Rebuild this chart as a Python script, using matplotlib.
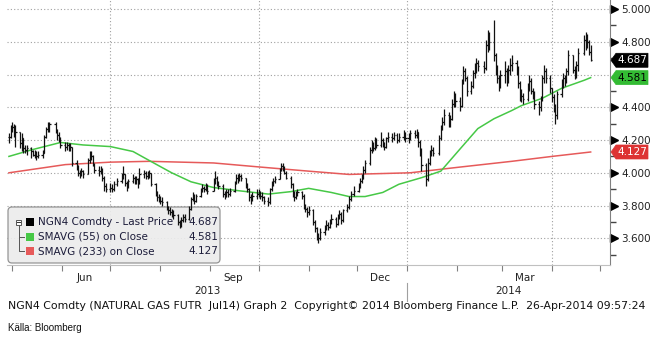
import matplotlib
matplotlib.use("Agg")
import matplotlib.pyplot as plt
import matplotlib.dates as mdates
import matplotlib.transforms as mtransforms
from matplotlib.collections import LineCollection
from matplotlib.patches import FancyBboxPatch, Polygon, Rectangle
import numpy as np
import pandas as pd

# NYMEX closed days inside the window
holidays = ["2013-05-27", "2013-07-04", "2013-09-02", "2013-11-28", "2013-12-25",
            "2014-01-01", "2014-01-20", "2014-02-17", "2014-04-18"]

# NGN4 daily bars, 29-Apr-2013 .. 25-Apr-2014 (one row per month)
close = [
    4.22, 4.26,
    4.28, 4.27, 4.25, 4.18, 4.21, 4.15, 4.14, 4.15, 4.13, 4.11, 4.12, 4.10, 4.11, 4.12, 4.22, 4.27, 4.29, 4.30, 4.26, 4.23, 4.21, 4.17,
    4.16, 4.17, 4.15, 4.16, 4.06, 4.04, 4.00, 3.99, 4.01, 3.99, 4.08, 4.11, 4.10, 4.05, 4.02, 4.01, 4.02, 3.97, 3.92, 3.90,
    3.91, 3.90, 3.93, 3.95, 3.98, 3.99, 3.94, 3.92, 3.95, 3.97, 3.95, 3.96, 3.94, 3.99, 4.00, 3.98, 3.99, 4.00, 3.93, 3.88, 3.85, 3.84,
    3.83, 3.82, 3.79, 3.77, 3.76, 3.75, 3.74, 3.70, 3.68, 3.71, 3.73, 3.72, 3.78, 3.84, 3.86, 3.83, 3.86, 3.89, 3.91, 3.90, 3.92, 3.89,
    3.95, 3.97, 3.94, 3.92, 3.87, 3.86, 3.88, 3.87, 3.89, 3.94, 3.97, 3.96, 3.98, 3.97, 3.93, 3.90, 3.85, 3.84, 3.86, 3.87,
    3.88, 3.86, 3.85, 3.83, 3.82, 3.90, 3.93, 3.95, 3.96, 4.02, 4.04, 4.03, 4.00, 3.97, 3.93, 3.87, 3.85, 3.87, 3.88, 3.86, 3.80, 3.78, 3.76,
    3.77, 3.70, 3.66, 3.61, 3.60, 3.64, 3.66, 3.68, 3.67, 3.70, 3.72, 3.69, 3.73, 3.75, 3.71, 3.77, 3.79, 3.84, 3.87, 3.89,
    3.92, 3.95, 3.97, 4.02, 4.06, 4.14, 4.17, 4.15, 4.19, 4.17, 4.20, 4.18, 4.16, 4.21, 4.22, 4.21, 4.23, 4.20, 4.22, 4.24, 4.21,
    4.21, 4.24, 4.23, 4.25, 4.19, 4.14, 4.05, 3.96, 4.06, 4.12, 4.14, 4.12, 4.21, 4.27, 4.31, 4.35, 4.30, 4.33, 4.42, 4.46, 4.44,
    4.41, 4.55, 4.62, 4.58, 4.50, 4.53, 4.61, 4.63, 4.67, 4.65, 4.64, 4.78, 4.82, 4.80, 4.72, 4.62, 4.58, 4.53, 4.60,
    4.62, 4.57, 4.63, 4.66, 4.67, 4.64, 4.55, 4.48, 4.47, 4.45, 4.52, 4.56, 4.50, 4.48, 4.42, 4.40, 4.45, 4.58, 4.62, 4.58, 4.52,
    4.46, 4.40, 4.35, 4.48, 4.54, 4.58, 4.56, 4.62, 4.72, 4.63, 4.60, 4.66, 4.73, 4.81, 4.78, 4.80, 4.74, 4.687,
]
high = [
    4.24, 4.29,
    4.31, 4.30, 4.29, 4.25, 4.24, 4.21, 4.17, 4.17, 4.16, 4.14, 4.14, 4.13, 4.13, 4.14, 4.23, 4.28, 4.31, 4.31, 4.31, 4.27, 4.25, 4.22,
    4.19, 4.19, 4.18, 4.18, 4.16, 4.08, 4.05, 4.02, 4.03, 4.02, 4.09, 4.13, 4.13, 4.11, 4.06, 4.04, 4.04, 4.03, 3.98, 3.94,
    3.94, 3.93, 3.95, 3.97, 4.00, 4.04, 3.99, 3.95, 3.96, 3.99, 3.98, 3.98, 3.97, 4.03, 4.02, 4.01, 4.01, 4.02, 4.00, 3.94, 3.89, 3.87,
    3.86, 3.85, 3.83, 3.80, 3.79, 3.78, 3.77, 3.75, 3.71, 3.73, 3.75, 3.75, 3.80, 3.85, 3.88, 3.87, 3.87, 3.91, 3.93, 3.92, 3.94, 3.93,
    3.97, 4.01, 3.98, 3.95, 3.93, 3.89, 3.90, 3.90, 3.91, 3.95, 3.99, 3.99, 4.00, 3.99, 3.97, 3.94, 3.91, 3.87, 3.88, 3.90,
    3.90, 3.89, 3.88, 3.86, 3.85, 3.91, 3.95, 3.97, 3.98, 4.03, 4.06, 4.06, 4.04, 4.01, 3.98, 3.94, 3.89, 3.89, 3.90, 3.89, 3.87, 3.81, 3.79,
    3.80, 3.78, 3.71, 3.67, 3.63, 3.66, 3.68, 3.71, 3.70, 3.72, 3.75, 3.73, 3.75, 3.77, 3.76, 3.78, 3.81, 3.86, 3.89, 3.92,
    3.94, 3.97, 3.99, 4.04, 4.08, 4.16, 4.20, 4.19, 4.22, 4.21, 4.25, 4.21, 4.19, 4.22, 4.25, 4.24, 4.25, 4.24, 4.24, 4.26, 4.25,
    4.24, 4.26, 4.26, 4.27, 4.24, 4.20, 4.15, 4.06, 4.09, 4.14, 4.17, 4.16, 4.23, 4.29, 4.34, 4.39, 4.37, 4.35, 4.45, 4.50, 4.49,
    4.46, 4.57, 4.65, 4.64, 4.59, 4.56, 4.63, 4.67, 4.70, 4.69, 4.68, 4.81, 4.87, 4.86, 4.93, 4.73, 4.66, 4.60, 4.63,
    4.68, 4.64, 4.66, 4.70, 4.72, 4.69, 4.65, 4.56, 4.51, 4.49, 4.55, 4.60, 4.58, 4.52, 4.50, 4.44, 4.47, 4.60, 4.66, 4.64, 4.60,
    4.52, 4.48, 4.42, 4.50, 4.57, 4.61, 4.60, 4.64, 4.75, 4.72, 4.65, 4.68, 4.76, 4.84, 4.86, 4.85, 4.81, 4.78,
]
low = [
    4.18, 4.21,
    4.25, 4.22, 4.16, 4.15, 4.13, 4.12, 4.12, 4.11, 4.09, 4.10, 4.09, 4.08, 4.09, 4.09, 4.12, 4.21, 4.25, 4.25, 4.24, 4.20, 4.19, 4.15,
    4.13, 4.14, 4.13, 4.13, 4.04, 4.02, 3.98, 3.97, 3.98, 3.97, 3.99, 4.06, 4.08, 4.04, 4.00, 3.98, 3.99, 3.95, 3.89, 3.88,
    3.88, 3.88, 3.89, 3.92, 3.94, 3.96, 3.92, 3.89, 3.91, 3.94, 3.93, 3.93, 3.91, 3.93, 3.97, 3.96, 3.96, 3.97, 3.92, 3.86, 3.83, 3.82,
    3.81, 3.80, 3.77, 3.75, 3.74, 3.73, 3.72, 3.68, 3.66, 3.67, 3.70, 3.70, 3.71, 3.77, 3.83, 3.81, 3.82, 3.85, 3.88, 3.88, 3.89, 3.87,
    3.89, 3.93, 3.92, 3.90, 3.85, 3.84, 3.85, 3.85, 3.86, 3.88, 3.93, 3.94, 3.95, 3.95, 3.91, 3.88, 3.83, 3.81, 3.83, 3.84,
    3.85, 3.84, 3.83, 3.81, 3.80, 3.81, 3.89, 3.92, 3.94, 3.96, 4.01, 4.01, 3.99, 3.96, 3.91, 3.85, 3.83, 3.84, 3.86, 3.84, 3.78, 3.76, 3.73,
    3.74, 3.68, 3.64, 3.59, 3.57, 3.59, 3.62, 3.65, 3.65, 3.66, 3.69, 3.67, 3.68, 3.72, 3.69, 3.70, 3.76, 3.78, 3.83, 3.86,
    3.88, 3.91, 3.94, 3.96, 4.00, 4.05, 4.12, 4.13, 4.14, 4.15, 4.16, 4.16, 4.14, 4.15, 4.19, 4.19, 4.20, 4.18, 4.19, 4.20, 4.19,
    4.18, 4.20, 4.21, 4.21, 4.16, 4.10, 4.01, 3.92, 3.95, 4.05, 4.10, 4.10, 4.11, 4.20, 4.26, 4.29, 4.28, 4.28, 4.32, 4.40, 4.40,
    4.38, 4.40, 4.54, 4.56, 4.47, 4.48, 4.52, 4.58, 4.61, 4.62, 4.61, 4.63, 4.74, 4.75, 4.68, 4.60, 4.55, 4.50, 4.52,
    4.55, 4.53, 4.55, 4.60, 4.62, 4.60, 4.52, 4.44, 4.43, 4.42, 4.44, 4.50, 4.48, 4.45, 4.39, 4.35, 4.38, 4.44, 4.55, 4.55, 4.49,
    4.43, 4.37, 4.30, 4.33, 4.46, 4.52, 4.53, 4.55, 4.60, 4.61, 4.57, 4.58, 4.62, 4.72, 4.75, 4.76, 4.72, 4.68,
]

# moving averages, sampled
sma55_dates = ["2013-04-29", "2013-05-13", "2013-05-31", "2013-06-14", "2013-07-01", "2013-07-15",
               "2013-07-26", "2013-08-08", "2013-08-20", "2013-09-03", "2013-09-19", "2013-10-07",
               "2013-10-21", "2013-11-01", "2013-11-15", "2013-11-26", "2013-12-06", "2013-12-17",
               "2013-12-27", "2014-01-10", "2014-01-22", "2014-02-03", "2014-02-14", "2014-02-24",
               "2014-03-07", "2014-03-13", "2014-03-26", "2014-04-07", "2014-04-21", "2014-04-25"]
sma55 = [4.10, 4.14, 4.185, 4.17, 4.16, 4.13, 4.07, 4.00, 3.945, 3.91, 3.89, 3.87,
         3.885, 3.905, 3.88, 3.855, 3.855, 3.88, 3.93, 3.97, 4.01, 4.146, 4.27, 4.33,
         4.38, 4.41, 4.455, 4.516, 4.565, 4.581]
sma233_dates = ["2013-04-29", "2013-06-03", "2013-07-01", "2013-07-25", "2013-09-03", "2013-10-02",
                "2013-11-01", "2013-11-26", "2014-01-03", "2014-02-03", "2014-03-07", "2014-04-01",
                "2014-04-25"]
sma233 = [4.00, 4.05, 4.065, 4.07, 4.06, 4.035, 4.01, 3.99, 4.00, 4.035, 4.07, 4.10, 4.127]

price_ticks = [3.6, 3.8, 4.0, 4.2, 4.4, 4.6, 4.8, 5.0]
minor_ticks = [3.5, 3.7, 3.9, 4.1, 4.3, 4.5, 4.7, 4.9]
quarter_lines = ["2013-07-01", "2013-10-01", "2014-01-01", "2014-04-01"]
month_names = {"2013-06-15": "Jun", "2013-09-15": "Sep", "2013-12-15": "Dec", "2014-03-15": "Mar"}

GREEN = "#46c846"
RED = "#e65a5a"
INK = "#1c1c3a"

days = pd.bdate_range("2013-04-29", "2014-04-25")
days = days[~days.isin(pd.to_datetime(holidays))]
n = min(len(days), len(close), len(high), len(low))
x = mdates.date2num(days[:n].to_pydatetime())
c = np.array(close[:n])
o = np.r_[c[0], c[:-1]]
hi = np.maximum.reduce([np.array(high[:n]), o, c])
lo = np.minimum.reduce([np.array(low[:n]), o, c])

W, H = 655, 339
plt.rcParams["font.family"] = ["DejaVu Sans"]
fig = plt.figure(figsize=(W / 100, H / 100), dpi=100)
ax = fig.add_axes([7 / W, 74 / H, 603 / W, 265 / H])
# image-pixel coordinates, origin top-left
img = mtransforms.Affine2D().scale(1 / 100, -1 / 100).translate(0, H / 100) + fig.dpi_scale_trans

x_left = mdates.date2num(pd.Timestamp("2013-07-01")) - 64.2
x_right = mdates.date2num(pd.Timestamp("2014-05-07"))
ax.set_xlim(x_left, x_right)
ax.set_ylim(3.437, 5.055)

# grid
for v in price_ticks:
    ax.axhline(v, color="#a0a0a0", lw=0.8, ls=(0, (1, 2)), zorder=1)
for d in quarter_lines:
    ax.axvline(mdates.date2num(pd.Timestamp(d)), color="#a0a0a0", lw=0.8, ls=(0, (1, 2)), zorder=1)

# moving averages
ax.plot(pd.to_datetime(sma233_dates), sma233, color=RED, lw=1.1, zorder=3)
ax.plot(pd.to_datetime(sma55_dates), sma55, color=GREEN, lw=1.1, zorder=3)

# OHLC bars
tk = 0.8
segs = [[(xi, l), (xi, h)] for xi, l, h in zip(x, lo, hi)]
segs += [[(xi - tk, op), (xi, op)] for xi, op in zip(x, o)]
segs += [[(xi, cl), (xi + tk, cl)] for xi, cl in zip(x, c)]
ax.add_collection(LineCollection(segs, colors="#111111", linewidths=0.9, zorder=4))

# axes frame
for s in ["left", "top"]:
    ax.spines[s].set_visible(False)
ax.spines["right"].set_color("#808080")
ax.spines["bottom"].set_color("#c0c0c0")

# last-value tags sit on the price axis; scale labels they cover are left out
tags = [(close[n - 1], "black", "white"), (sma55[-1], "#33bb33", "black"), (sma233[-1], "#dd3333", "white")]
shown = [v for v in price_ticks if all(abs(v - t[0]) > 0.045 for t in tags)]

ax.yaxis.tick_right()
ax.set_yticks(shown)
ax.set_yticklabels([f"{v:.3f}" for v in shown])
ax.set_yticks(minor_ticks, minor=True)
ax.tick_params(axis="y", which="major", length=0, pad=8, labelsize=7.5, labelcolor="#222222")
ax.tick_params(axis="y", which="minor", length=4, width=1, color="#444444")
tri = mtransforms.blended_transform_factory(ax.transAxes, ax.transData) + \
    mtransforms.ScaledTranslation(4 / 100, 0, fig.dpi_scale_trans)
ax.plot([1.0] * len(shown), shown, ls="none", marker=">", ms=5.5,
        color="black", transform=tri, clip_on=False)

month_starts = pd.date_range("2013-05-01", "2014-05-01", freq="MS")
ax.set_xticks(mdates.date2num(month_starts.to_pydatetime()))
ax.set_xticklabels([])
ax.tick_params(axis="x", which="major", length=4, width=0.8, color="#808080")
ax.set_xticks(mdates.date2num(pd.to_datetime(list(month_names)).to_pydatetime()), minor=True)
ax.set_xticklabels(list(month_names.values()), minor=True)
ax.tick_params(axis="x", which="minor", length=0, pad=6, labelsize=7.5, labelcolor="#222222")

# year row
xb = mtransforms.blended_transform_factory(ax.transData, ax.transAxes)
jan1 = mdates.date2num(pd.Timestamp("2014-01-01"))
ax.text((x_left + jan1) / 2, -26 / 265, "2013", transform=xb, ha="center", va="center",
        fontsize=7.5, color="#222222", clip_on=False)
ax.text((jan1 + x_right) / 2, -26 / 265, "2014", transform=xb, ha="center", va="center",
        fontsize=7.5, color="#222222", clip_on=False)
ax.plot([jan1, jan1], [-18 / 265, -36 / 265], transform=xb, color="#a0a0a0", lw=0.8, clip_on=False)

# legend panel
ax.add_patch(FancyBboxPatch((8, 207), 212, 56, boxstyle="round,pad=0,rounding_size=4",
                            transform=img, facecolor="#ececec", edgecolor="#8a8a8a",
                            lw=0.9, alpha=0.9, zorder=2))
rows = [("NGN4 Comdty - Last Price", "black", close[n - 1]),
        ("SMAVG (55) on Close", GREEN, sma55[-1]),
        ("SMAVG (233) on Close", RED, sma233[-1])]
row_y = [222, 236.5, 251]
for (label, col, val), yy in zip(rows, row_y):
    ax.add_patch(Rectangle((25.5, yy - 4), 8, 8, transform=img, facecolor=col,
                           edgecolor="none", zorder=2.1))
    ax.text(38, yy, label, transform=img, va="center", ha="left", fontsize=7.5,
            color=INK, zorder=2.2)
    ax.text(218, yy, f"{val:.3f}", transform=img, va="center", ha="right", fontsize=7.5,
            color=INK, zorder=2.2)
ax.add_patch(Rectangle((16, 219.5), 5, 5, transform=img, facecolor="white",
                       edgecolor="#555555", lw=0.7, zorder=2.1))
ax.plot([17, 20], [222, 222], transform=img, color="#333333", lw=0.7, zorder=2.2)
ax.plot([18.5, 18.5, 24], [224.5, 251, 251], transform=img, color="#555555", lw=0.7, zorder=2.1)
ax.plot([18.5, 24], [236.5, 236.5], transform=img, color="#555555", lw=0.7, zorder=2.1)

fig.canvas.draw()
for val, fc, tc in tags:
    yc = H - ax.transData.transform((x_right, val))[1]
    fig.add_artist(Polygon([(611, yc), (616, yc - 7), (648, yc - 7), (648, yc + 7), (616, yc + 7)],
                           closed=True, transform=img, facecolor=fc, edgecolor=fc, lw=0.5))
    fig.text(632 / W, 1 - yc / H, f"{val:.3f}", ha="center", va="center", fontsize=7.5, color=tc)

fig.text(8 / W, 1 - 306 / H, "NGN4 Comdty (NATURAL GAS FUTR  Jul14) Graph 2  Copyright\u00a9 2014 "
         "Bloomberg Finance L.P.  26-Apr-2014 09:57:24", ha="left", va="center", fontsize=7.8,
         color="#111111")
fig.text(8 / W, 1 - 328 / H, "K\u00e4lla: Bloomberg", ha="left", va="center", fontsize=7,
         family="Liberation Sans", color="#111111")

fig.savefig("out.png", dpi=100)
